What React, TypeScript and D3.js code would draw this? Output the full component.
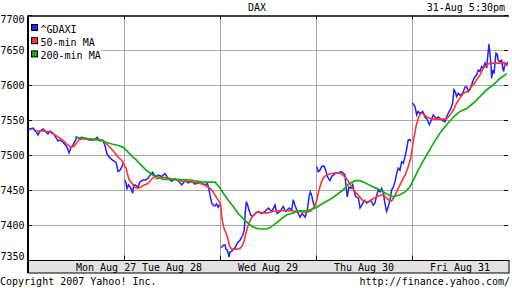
import React from "react";
import * as d3 from "d3";

const MINUTES_PER_DAY = 510;
const dayLabels = ["Mon Aug 27", "Tue Aug 28", "Wed Aug 29", "Thu Aug 30", "Fri Aug 31"];
const yTickValues = [7350, 7400, 7450, 7500, 7550, 7600, 7650, 7700];
const legendLabels = ["^GDAXI", "50-min MA", "200-min MA"];
const seriesColors = ["#2222ff", "#ff3333", "#11b011"];

// [minutes since Monday open (510 trading minutes per day), index level]
const gdaxi: [number, number][] = [
  [0,7536],[11,7538],[27,7539],[43,7534],[53,7529],[64,7535],[80,7538],[90,7535],[106,7531],[117,7535],[133,7532],[143,7528],[159,7521],[170,7522],[186,7519],[202,7514],[213,7508],[218,7504],[228,7511],[239,7515],[250,7521],[260,7526],[271,7525],[287,7526],[308,7524],[329,7522],[351,7522],[367,7526],[383,7521],[398,7522],[409,7514],[420,7502],[431,7498],[446,7494],[457,7492],[468,7490],[473,7484],[478,7477],[489,7479],[499,7484],[505,7488],
  [515,7465],[521,7460],[526,7453],[534,7458],[547,7453],[556,7446],[561,7458],[569,7458],[584,7455],[595,7462],[611,7465],[624,7465],[636,7467],[648,7472],[662,7476],[675,7470],[692,7472],[710,7470],[728,7474],[745,7467],[763,7463],[781,7467],[798,7464],[817,7458],[834,7464],[852,7461],[870,7463],[887,7459],[905,7461],[923,7460],[940,7458],[953,7460],[962,7451],[967,7443],[976,7432],[984,7429],[993,7428],[1002,7431],[1011,7426],[1018,7430],
  [1025,7368],[1031,7370],[1041,7372],[1047,7372],[1052,7366],[1059,7365],[1068,7355],[1073,7362],[1082,7363],[1089,7366],[1100,7368],[1112,7375],[1126,7379],[1141,7386],[1149,7394],[1154,7418],[1160,7434],[1167,7429],[1174,7422],[1183,7415],[1192,7413],[1201,7415],[1211,7418],[1223,7420],[1241,7417],[1259,7420],[1277,7425],[1295,7420],[1312,7429],[1324,7417],[1339,7420],[1356,7427],[1369,7420],[1387,7425],[1401,7422],[1409,7437],[1418,7429],[1431,7420],[1445,7412],[1457,7417],[1472,7412],[1484,7422],[1493,7441],[1500,7448],[1507,7443],[1516,7432],[1525,7425],
  [1534,7484],[1542,7477],[1551,7479],[1560,7484],[1572,7485],[1582,7479],[1590,7470],[1604,7464],[1613,7470],[1622,7472],[1635,7475],[1648,7475],[1663,7477],[1675,7475],[1684,7472],[1690,7455],[1696,7441],[1705,7455],[1716,7453],[1725,7458],[1733,7448],[1741,7441],[1755,7439],[1764,7425],[1773,7429],[1787,7436],[1799,7432],[1812,7434],[1822,7436],[1834,7429],[1843,7432],[1852,7443],[1861,7451],[1870,7448],[1879,7453],[1888,7446],[1896,7432],[1905,7420],[1914,7427],[1923,7436],[1932,7451],[1941,7455],[1950,7463],[1959,7475],[1967,7482],[1976,7479],[1985,7491],[1994,7489],[2003,7498],[2012,7510],[2020,7522],[2029,7523],[2034,7520],
  [2042,7575],[2056,7570],[2065,7558],[2073,7563],[2083,7560],[2097,7563],[2109,7555],[2121,7551],[2132,7544],[2139,7548],[2153,7558],[2168,7553],[2180,7555],[2198,7551],[2215,7548],[2224,7555],[2232,7560],[2246,7567],[2256,7575],[2263,7594],[2270,7591],[2277,7584],[2286,7589],[2295,7586],[2309,7589],[2322,7598],[2331,7598],[2339,7591],[2348,7594],[2357,7601],[2366,7608],[2375,7613],[2383,7615],[2392,7622],[2401,7620],[2410,7627],[2419,7625],[2428,7632],[2437,7625],[2442,7641],[2449,7659],[2454,7646],[2460,7629],[2463,7610],[2469,7622],[2476,7617],[2481,7632],[2486,7646],[2493,7644],[2498,7636],[2507,7634],[2516,7636],[2522,7625],[2527,7620],[2534,7632],[2543,7629],[2548,7634],
];

const ma50: [number, number][] = [
  [43,7535],[78,7535],[113,7534],[140,7530],[158,7527],[175,7524],[193,7520],[211,7515],[228,7512],[246,7513],[255,7517],[269,7522],[291,7524],[317,7523],[344,7523],[370,7523],[388,7522],[405,7520],[423,7515],[441,7510],[458,7505],[477,7498],[494,7494],[503,7491],[512,7486],[521,7482],[530,7472],[538,7465],[553,7460],[565,7455],[583,7453],[600,7455],[618,7458],[636,7460],[653,7465],[671,7470],[684,7467],[719,7469],[754,7467],[790,7465],[825,7463],[861,7463],[896,7461],[931,7459],[949,7456],[967,7453],[984,7448],[999,7441],[1011,7436],[1020,7432],[1024,7429],[1029,7413],[1034,7405],[1041,7396],[1052,7389],[1061,7382],[1069,7372],[1082,7366],[1105,7366],[1126,7367],[1141,7372],[1149,7379],[1158,7389],[1167,7398],[1176,7405],[1188,7411],[1206,7417],[1223,7420],[1250,7418],[1277,7418],[1295,7420],[1330,7421],[1365,7421],[1401,7421],[1436,7420],[1472,7419],[1498,7420],[1516,7425],[1525,7429],[1534,7436],[1542,7446],[1551,7455],[1560,7463],[1574,7470],[1587,7472],[1604,7474],[1631,7475],[1658,7475],[1684,7470],[1702,7463],[1720,7455],[1737,7448],[1755,7443],[1773,7437],[1790,7434],[1808,7434],[1826,7437],[1852,7441],[1870,7443],[1888,7444],[1905,7439],[1918,7436],[1932,7435],[1950,7443],[1967,7453],[1985,7463],[2003,7472],[2020,7484],[2033,7496],[2041,7510],[2051,7527],[2061,7541],[2073,7553],[2086,7560],[2100,7560],[2118,7555],[2136,7553],[2162,7552],[2189,7552],[2215,7552],[2228,7553],[2242,7558],[2260,7565],[2277,7575],[2295,7582],[2313,7589],[2331,7591],[2348,7596],[2366,7601],[2383,7608],[2401,7615],[2419,7625],[2437,7629],[2454,7632],[2490,7632],[2507,7632],[2525,7633],[2534,7629],[2548,7632],
];

const ma200: [number, number][] = [
  [251,7527],[273,7525],[299,7525],[344,7523],[388,7522],[414,7519],[450,7516],[485,7514],[503,7512],[521,7508],[538,7503],[556,7498],[574,7494],[591,7489],[609,7484],[627,7479],[644,7476],[662,7472],[680,7471],[719,7466],[790,7466],[861,7465],[931,7462],[994,7462],[1016,7455],[1024,7452],[1038,7446],[1064,7436],[1090,7427],[1117,7417],[1143,7410],[1162,7405],[1188,7399],[1215,7396],[1241,7395],[1268,7395],[1286,7397],[1321,7404],[1348,7410],[1374,7415],[1409,7418],[1445,7421],[1481,7421],[1516,7424],[1534,7426],[1569,7432],[1604,7437],[1640,7444],[1675,7451],[1702,7459],[1737,7464],[1764,7464],[1790,7461],[1826,7456],[1861,7452],[1888,7448],[1914,7444],[1941,7441],[1976,7444],[2003,7448],[2029,7455],[2040,7461],[2073,7479],[2083,7484],[2118,7501],[2153,7517],[2189,7532],[2224,7544],[2260,7555],[2295,7563],[2331,7567],[2366,7575],[2401,7584],[2437,7594],[2472,7601],[2507,7610],[2543,7617],
];

const FONT = "'DejaVu Sans Mono', monospace";

export default function App() {
  const left = 28, right = 508, top = 15.5, bottom = 260.5;
  const x = d3.scaleLinear().domain([0, dayLabels.length * MINUTES_PER_DAY]).range([left, right]);
  const y = d3.scaleLinear().domain([7350, 7700]).range([bottom, top]);
  const line = d3.line<[number, number]>().x(d => x(d[0])).y(d => y(d[1]));
  const blueDays = d3.groups(gdaxi, d => Math.floor(d[0] / MINUTES_PER_DAY));
  const boundaries = d3.range(1, dayLabels.length).map(i => i * MINUTES_PER_DAY);

  return (
    <svg width={512} height={288} style={{ position: "fixed", left: 0, top: 0, background: "#fff" }}
      fontFamily={FONT} fontSize={10}>
      <rect x={0} y={0} width={512} height={288} fill="#fff" />
      {/* horizontal gridlines */}
      {yTickValues.filter(v => v > 7350 && v < 7700).map(v => (
        <line key={v} x1={left} x2={right - 4} y1={y(v)} y2={y(v)} stroke="#a8a8a8" strokeWidth={1} />
      ))}
      {/* vertical gridlines */}
      {boundaries.map(b => (
        <line key={b} x1={Math.round(x(b)) + 0.5} x2={Math.round(x(b)) + 0.5} y1={top} y2={bottom} stroke="#a8a8a8" strokeWidth={1} />
      ))}
      {/* ticks */}
      {yTickValues.map(v => (
        <g key={"t" + v}>
          <line x1={left} x2={left + 4} y1={y(v)} y2={y(v)} stroke="#000" />
          <line x1={right - 4} x2={right} y1={y(v)} y2={y(v)} stroke="#000" />
        </g>
      ))}
      {boundaries.map(b => (
        <g key={"bt" + b}>
          <line x1={Math.round(x(b)) + 0.5} x2={Math.round(x(b)) + 0.5} y1={top} y2={top + 4} stroke="#000" />
          <line x1={Math.round(x(b)) + 0.5} x2={Math.round(x(b)) + 0.5} y1={bottom - 5} y2={bottom} stroke="#000" />
        </g>
      ))}
      {/* series */}
      {blueDays.map(([k, pts]) => (
        <path key={"b" + k} d={line(pts) || ""} fill="none" stroke={seriesColors[0]} strokeWidth={1.5} />
      ))}
      <path d={line(ma50) || ""} fill="none" stroke={seriesColors[1]} strokeWidth={1.6} />
      <path d={line(ma200) || ""} fill="none" stroke={seriesColors[2]} strokeWidth={1.7} />
      {/* legend */}
      <rect x={29} y={17} width={72} height={43} fill="#fff" />
      {legendLabels.map((lab, i) => (
        <g key={lab}>
          <rect x={31.5} y={24.5 + i * 13.2} width={6} height={6} fill={seriesColors[i]} stroke="#000" strokeWidth={1} />
          <text x={40.5} y={33 + i * 13.2} fill="#000">{lab}</text>
        </g>
      ))}
      {/* axis band */}
      <rect x={left} y={bottom} width={481} height={12.5} fill="#e2e2e2" stroke="#000" strokeWidth={1} />
      {dayLabels.map((lab, i) => (
        <text key={lab} x={i === 0 ? x((i + 0.5) * MINUTES_PER_DAY) : x((i + 0.5) * MINUTES_PER_DAY)}
          y={270.5} textAnchor={i === 0 ? "start" : "middle"} fill="#000">{lab}</text>
      ))}
      {/* frame */}
      <line x1={left} x2={right + 1} y1={top + 0.5} y2={top + 0.5} stroke="#000" strokeWidth={1.5} />
      <line x1={left} x2={left} y1={top} y2={273} stroke="#000" strokeWidth={2} />
      {/* y labels */}
      {yTickValues.map(v => (
        <text key={"l" + v} x={24.5} y={Math.min(256.5, Math.max(19.5, y(v))) + 3.5} textAnchor="end" fill="#000">{v}</text>
      ))}
      {/* titles */}
      <text x={257} y={11} textAnchor="middle" fill="#000">DAX</text>
      <text x={505} y={11} textAnchor="end" fill="#000">31-Aug 5:30pm</text>
      <text x={0} y={285} fill="#000">Copyright 2007 Yahoo! Inc.</text>
      <text x={510} y={285} textAnchor="end" fill="#000">http://finance.yahoo.com/</text>
    </svg>
  );
}
